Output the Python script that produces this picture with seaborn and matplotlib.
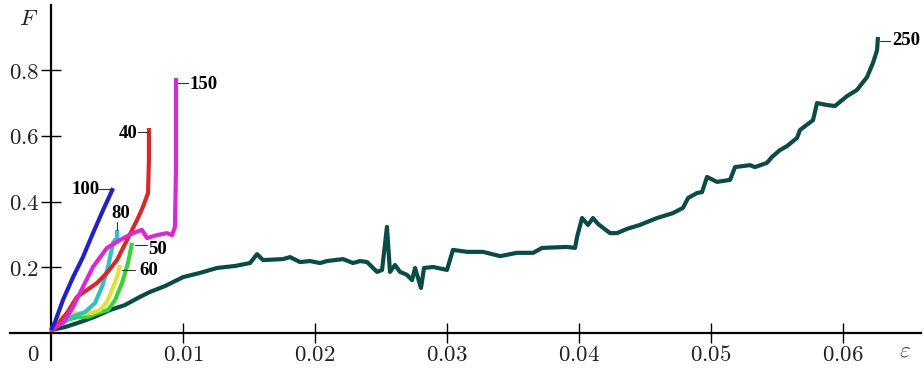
import matplotlib
matplotlib.use("Agg")
import matplotlib.pyplot as plt
import seaborn as sns
import pandas as pd

sns.set_theme(style="white")
plt.rcParams["mathtext.fontset"] = "cm"
plt.rcParams["font.family"] = ["DejaVu Serif"]

# strain (epsilon) and force (F) for each sample
eps_250 = [0.0, 0.00106, 0.0022, 0.0033, 0.00447, 0.0056, 0.00674, 0.0075, 0.00864,
           0.0100, 0.01129, 0.01258, 0.01394, 0.01508, 0.01561, 0.01606, 0.01758,
           0.01811, 0.01886, 0.01962, 0.02038, 0.02091, 0.02212, 0.02288, 0.02341,
           0.02394, 0.0247, 0.02508, 0.02545, 0.02568, 0.02606, 0.02644, 0.02697,
           0.02735, 0.02758, 0.02803, 0.02826, 0.02894, 0.0300, 0.03045, 0.03152,
           0.03273, 0.03402, 0.0353, 0.03652, 0.0372, 0.03909, 0.0397, 0.03985,
           0.04023, 0.04068, 0.04106, 0.04144, 0.04235, 0.04288, 0.04364, 0.04462,
           0.04591, 0.04712, 0.04788, 0.04826, 0.04894, 0.04932, 0.0497, 0.05045,
           0.05144, 0.05182, 0.05295, 0.05333, 0.05424, 0.05462, 0.05523, 0.05576,
           0.05652, 0.05674, 0.05773, 0.05803, 0.05879, 0.05939, 0.0603, 0.06106,
           0.06182, 0.06227, 0.06258, 0.06265]
F_250 = [0.009, 0.018, 0.033, 0.049, 0.070, 0.085, 0.110, 0.125, 0.143,
         0.170, 0.183, 0.198, 0.204, 0.213, 0.240, 0.222, 0.225,
         0.231, 0.216, 0.219, 0.213, 0.219, 0.225, 0.213, 0.219,
         0.216, 0.186, 0.192, 0.323, 0.186, 0.207, 0.186, 0.177,
         0.161, 0.198, 0.137, 0.198, 0.201, 0.192, 0.253, 0.247,
         0.247, 0.234, 0.244, 0.244, 0.259, 0.262, 0.259, 0.292,
         0.350, 0.329, 0.350, 0.332, 0.304, 0.304, 0.317, 0.329,
         0.350, 0.365, 0.381, 0.411, 0.426, 0.429, 0.475, 0.460,
         0.466, 0.505, 0.511, 0.505, 0.518, 0.536, 0.557, 0.569,
         0.594, 0.618, 0.648, 0.700, 0.694, 0.691, 0.721, 0.740,
         0.779, 0.822, 0.861, 0.901]

eps_100 = [0.0, 0.0003, 0.0009, 0.00167, 0.00242, 0.00318, 0.00394, 0.00447, 0.0047]
F_100 = [0.009, 0.033, 0.100, 0.170, 0.231, 0.304, 0.374, 0.420, 0.441]

eps_40 = [0.0, 0.0003, 0.00121, 0.00197, 0.00273, 0.00348, 0.00424, 0.005, 0.00576,
          0.00652, 0.00697, 0.00735, 0.00742, 0.00742]
F_40 = [0.006, 0.015, 0.061, 0.110, 0.131, 0.152, 0.183, 0.222, 0.283,
        0.344, 0.384, 0.426, 0.527, 0.624]

eps_150 = [0.0, 0.00015, 0.00091, 0.00167, 0.00242, 0.00318, 0.00424, 0.00523, 0.00621,
           0.00689, 0.00727, 0.00803, 0.00879, 0.00917, 0.00939, 0.00947, 0.00947]
F_150 = [0.006, 0.015, 0.030, 0.079, 0.140, 0.201, 0.259, 0.283, 0.304,
         0.314, 0.289, 0.298, 0.304, 0.298, 0.323, 0.505, 0.776]

eps_80 = [0.0, 0.00015, 0.00083, 0.00159, 0.00258, 0.00333, 0.00386, 0.00432, 0.0047,
          0.00485, 0.00500, 0.00500]
F_80 = [0.006, 0.018, 0.033, 0.049, 0.064, 0.091, 0.140, 0.201, 0.274,
        0.283, 0.285, 0.314]

eps_60 = [0.00008, 0.00045, 0.00083, 0.00159, 0.00235, 0.00311, 0.00371, 0.00424,
          0.00462, 0.005, 0.00523]
F_60 = [0.012, 0.033, 0.049, 0.061, 0.058, 0.061, 0.070, 0.094, 0.131, 0.170, 0.207]

eps_50 = [0.00008, 0.00068, 0.00129, 0.00205, 0.0028, 0.00356, 0.00432, 0.00485,
          0.00538, 0.00583, 0.00614]
F_50 = [0.009, 0.027, 0.040, 0.049, 0.049, 0.061, 0.070, 0.100, 0.152, 0.213, 0.274]

curves = [
    ("250", eps_250, F_250, "#0b4b45"),
    ("50", eps_50, F_50, "#3ad23a"),
    ("60", eps_60, F_60, "#e2e236"),
    ("80", eps_80, F_80, "#2fc0c6"),
    ("40", eps_40, F_40, "#d42a2a"),
    ("150", eps_150, F_150, "#d82ad2"),
    ("100", eps_100, F_100, "#2222c4"),
]

fig = plt.figure(figsize=(9.24, 3.69), dpi=100)
ax = fig.add_axes([0, 0, 1, 1])
ax.set_facecolor("white")

for name, e, f, col in curves:
    df = pd.DataFrame({"eps": e, "F": f})
    sns.lineplot(data=df, x="eps", y="F", sort=False, estimator=None,
                 color=col, lw=3.0, ax=ax, solid_capstyle="butt")

ax.set_xlim(-0.003864, 0.066136)
ax.set_ylim(-0.10959, 1.01370)
ax.set_xlabel("")
ax.set_ylabel("")

# axes crossing at the origin
for side in ["top", "right"]:
    ax.spines[side].set_visible(False)
ax.spines["left"].set_position(("data", 0))
ax.spines["bottom"].set_position(("data", 0))
ax.spines["left"].set_bounds(-0.082, 0.998)
ax.spines["bottom"].set_bounds(-0.0031, 0.0659)
for side in ["left", "bottom"]:
    ax.spines[side].set_linewidth(1.6)
    ax.spines[side].set_color("black")
    ax.spines[side].set_zorder(0.5)

xt = [0.01, 0.02, 0.03, 0.04, 0.05, 0.06]
yt = [0.2, 0.4, 0.6, 0.8]
ax.set_xticks(xt)
ax.set_xticklabels([f"${v:g}$" for v in xt])
ax.set_yticks(yt)
ax.set_yticklabels([f"${v:g}$" for v in yt])
ax.tick_params(axis="both", direction="inout", length=14, width=1.0,
               color="black", labelsize=16.5, labelcolor="#222222", pad=1.5,
               bottom=True, left=True)
ax.tick_params(axis="x", pad=1.0)

ax.text(-0.00135, -0.067, "$0$", fontsize=16.5, color="#222222",
        ha="center", va="center")
ax.text(-0.0017, 0.955, "$F$", fontsize=16.5, color="#222222",
        ha="center", va="center")
ax.text(0.0647, -0.052, r"$\varepsilon$", fontsize=16.5, color="#444444",
        ha="center", va="center")

# curve labels with short leader lines
lab_font = dict(family=["Liberation Serif", "DejaVu Serif"], weight="bold",
                fontsize=13.5, color="black", va="center")
labels = [
    ("100", 0.00265, 0.438, "center", [(0.00356, 0.00462), (0.438, 0.438)]),
    ("80", 0.00530, 0.365, "center", [(0.00500, 0.00500), (0.315, 0.338)]),
    ("50", 0.00811, 0.255, "center", [(0.00636, 0.00727), (0.268, 0.268)]),
    ("60", 0.00740, 0.190, "center", [(0.00538, 0.00636), (0.192, 0.192)]),
    ("40", 0.00583, 0.606, "center", [(0.00659, 0.00735), (0.612, 0.612)]),
    ("150", 0.01152, 0.755, "center", [(0.00962, 0.01038), (0.761, 0.761)]),
    ("250", 0.06477, 0.890, "center", [(0.06280, 0.06356), (0.888, 0.888)]),
]
for txt, x, y, ha, (lx, ly) in labels:
    ax.text(x, y, txt, ha=ha, **lab_font)
    ax.plot(lx, ly, color="#333333", lw=0.8)

fig.savefig("out.png", dpi=100, facecolor="white")
